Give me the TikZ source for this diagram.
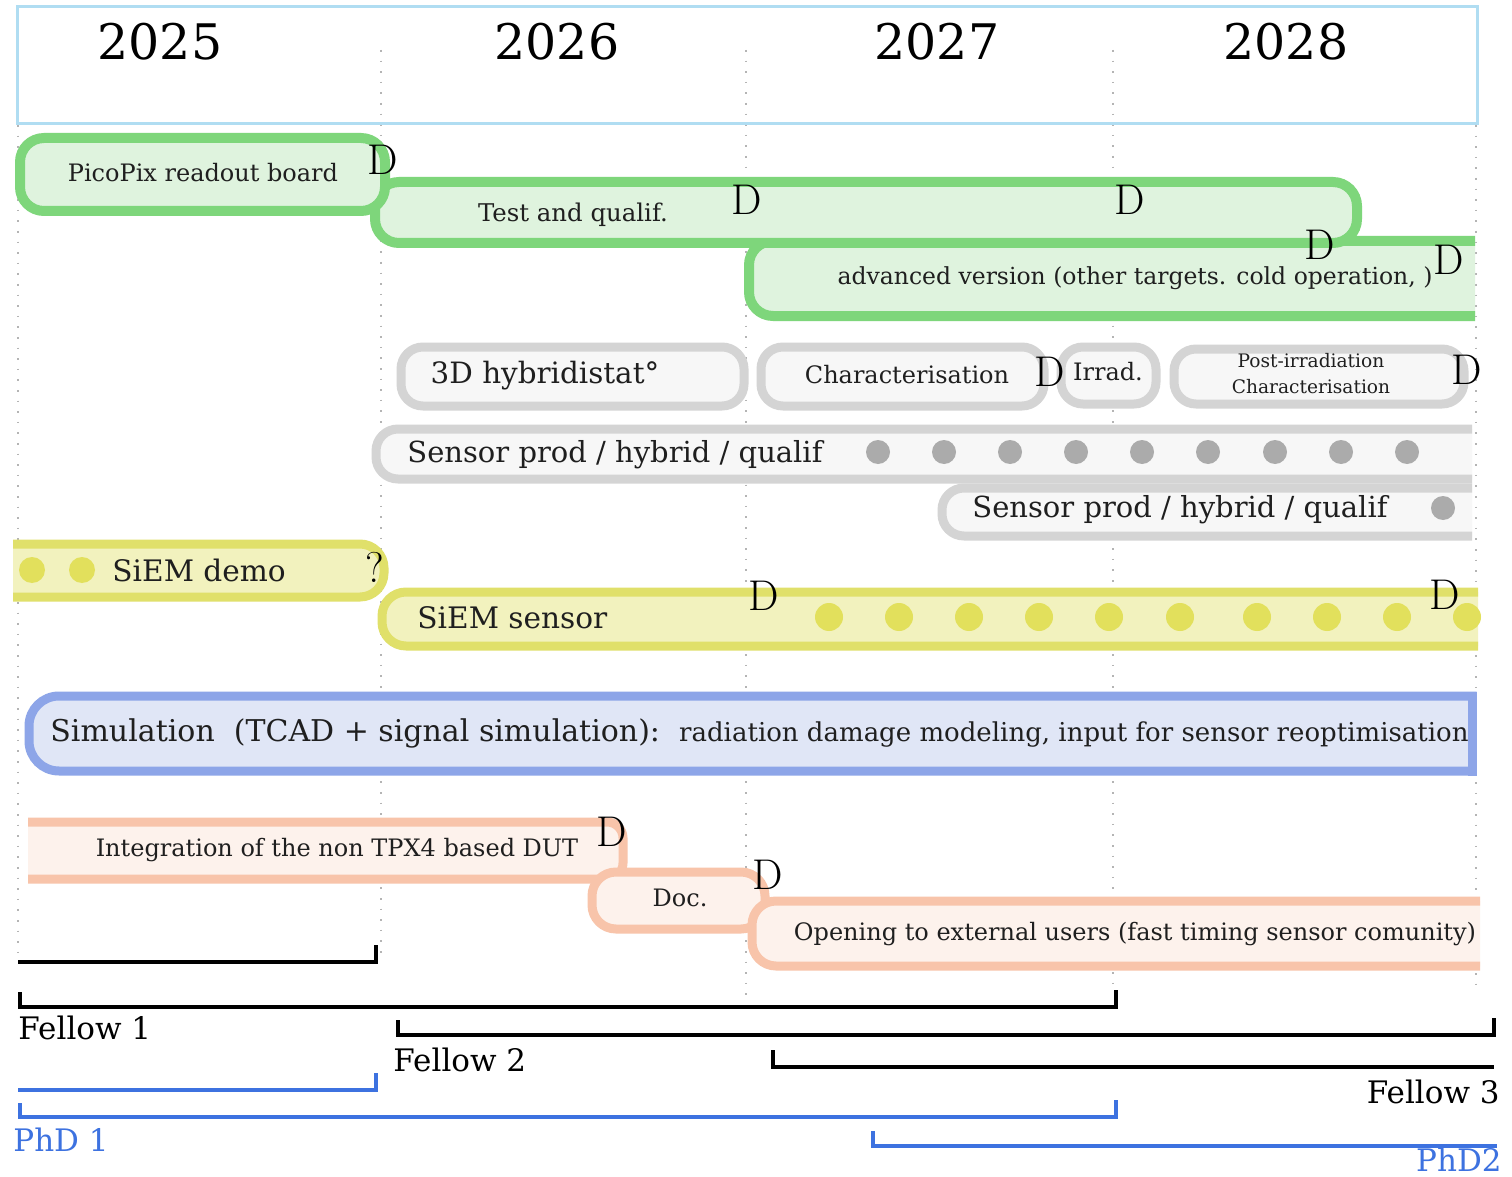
\documentclass[tikz,border=0pt]{standalone}
\usepackage{fontspec}
\newfontfamily\dvs{DejaVu Serif}
\newcommand\myfs[1]{\fontsize{#1}{#1}\selectfont}
\definecolor{gstroke}{HTML}{7ED67B}
\definecolor{gfill}{HTML}{DFF3DE}
\definecolor{grstroke}{HTML}{D4D4D4}
\definecolor{grfill}{HTML}{F7F7F7}
\definecolor{grdot}{HTML}{ABABAB}
\definecolor{ystroke}{HTML}{E0E06A}
\definecolor{yfill}{HTML}{F2F2BE}
\definecolor{ydot}{HTML}{E2E05C}
\definecolor{bstroke}{HTML}{8DA5E8}
\definecolor{bfill}{HTML}{E0E6F6}
\definecolor{ostroke}{HTML}{F8C4AA}
\definecolor{ofill}{HTML}{FDF2EC}
\definecolor{hdr}{HTML}{B0DDF2}
\definecolor{gridc}{HTML}{B4B4B4}
\definecolor{phdblue}{HTML}{3D72E0}
\begin{document}
\begin{tikzpicture}[x=0.5pt,y=-0.5pt,
  gridln/.style={draw=gridc, line width=0.7pt, dash pattern=on 0.8pt off 4.5pt},
  gbox/.style={draw=gstroke, fill=gfill, line width=5pt, rounded corners=12pt},
  grbox/.style={draw=grstroke, fill=grfill, line width=4.5pt, rounded corners=11pt},
  ybox/.style={draw=ystroke, fill=yfill, line width=4.5pt, rounded corners=12pt},
  bbox/.style={draw=bstroke, fill=bfill, line width=4.5pt, rounded corners=15pt},
  obox/.style={draw=ostroke, fill=ofill, line width=4.5pt, rounded corners=12pt},
  txt/.style={font=\dvs, inner sep=0pt, text=black!88},
  dmark/.style={font=\myfs{21.5}, inner sep=0pt},
  year/.style={font=\dvs\myfs{24.5}, inner sep=0pt},
  lbl/.style={font=\dvs\myfs{15.5}, inner sep=0pt},
  blk/.style={draw=black, line width=2pt},
  blu/.style={draw=phdblue, line width=1.8pt},
  grdotc/.style={fill=grdot},
  ydotc/.style={fill=ydot}]
\useasboundingbox (0,0) rectangle (1512,1177);
\fill[white] (0,0) rectangle (1512,1177);

% grid lines
\draw[gridln] (18,125) -- (18,955);
\draw[gridln] (381,50) -- (381,960);
\draw[gridln] (746,50) -- (746,1000);
\draw[gridln] (1113,50) -- (1113,990);
\draw[gridln] (1476,125) -- (1476,990);

% header
\draw[draw=hdr, line width=1.5pt] (17,7) rectangle (1477,124);
\node[year] (y25) at (160,42) {2025};
\node[year] (y26) at (557,42) {2026};
\node[year] (y27) at (937,42) {2027};
\node[year] (y28) at (1286,42) {2028};

% green rows
\fill[gfill, rounded corners=12pt] (1475,241) -- (749,241) -- (749,316) -- (1475,316);
\draw[draw=gstroke, line width=5pt, rounded corners=12pt] (1475,241) -- (749,241) -- (749,316) -- (1475,316);
\draw[gbox] (375,182) rectangle (1357,243);
\draw[gbox] (20,138) rectangle (385,211);

% gray rows
\fill[grfill, rounded corners=11pt] (1472,488) -- (942,488) -- (942,536) -- (1472,536);
\draw[draw=grstroke, line width=4.5pt, rounded corners=11pt] (1472,488) -- (942,488) -- (942,536) -- (1472,536);
\fill[grfill, rounded corners=11pt] (1472,429) -- (376,429) -- (376,479) -- (1472,479);
\draw[draw=grstroke, line width=4.5pt, rounded corners=11pt] (1472,429) -- (376,429) -- (376,479) -- (1472,479);
\draw[grbox] (401,347) rectangle (744,406);
\draw[grbox] (761,347) rectangle (1044,406);
\draw[grbox] (1061,347) rectangle (1156,404);
\draw[grbox] (1174,349) rectangle (1464,404);

% yellow rows
\fill[yfill, rounded corners=12pt] (1478,592) -- (382,592) -- (382,646) -- (1478,646);
\draw[draw=ystroke, line width=4.5pt, rounded corners=12pt] (1478,592) -- (382,592) -- (382,646) -- (1478,646);
\fill[yfill, rounded corners=12pt] (13,544) -- (384,544) -- (384,597) -- (13,597);
\draw[draw=ystroke, line width=4.5pt, rounded corners=12pt] (13,544) -- (384,544) -- (384,597) -- (13,597);

% simulation
\fill[bfill, rounded corners=15pt] (1472,696) -- (29,696) -- (29,771) -- (1472,771);
\draw[draw=bstroke, line width=4.5pt, rounded corners=15pt, line cap=rect] (1472,696) -- (29,696) -- (29,771) -- (1472,771);
\draw[draw=bstroke, line width=4.5pt, line cap=rect] (1472,696) -- (1472,771);

% orange rows
\fill[ofill, rounded corners=8pt] (28,822) -- (623,822) -- (623,879) -- (28,879);
\draw[draw=ostroke, line width=4.5pt, rounded corners=8pt] (28,822) -- (623,822) -- (623,879) -- (28,879);
\draw[obox] (592,872) rectangle (765,929);
\fill[ofill, rounded corners=12pt] (1480,901) -- (752,901) -- (752,966) -- (1480,966);
\draw[draw=ostroke, line width=4.5pt, rounded corners=12pt] (1480,901) -- (752,901) -- (752,966) -- (1480,966);

% dots
\foreach \x in {878,944,1010,1076,1142,1208,1275,1341,1407}
  \fill[grdotc] (\x,452) circle (6pt);
\fill[grdotc] (1443,508) circle (6pt);
\foreach \x in {32,82}
  \fill[ydotc] (\x,570) circle (6.5pt);
\foreach \x in {829,899,969,1039,1109,1180,1257,1327,1397,1467}
  \fill[ydotc] (\x,617) circle (7pt);

% texts
\node[txt, font=\dvs\myfs{12}] (pico) at (203,173) {PicoPix readout board};
\node[txt, font=\dvs\myfs{12.2}] (test) at (573,215) {Test and qualif.};
\node[txt, font=\dvs\myfs{11.75}] (adv) at (1135,278) {advanced version (other targets. cold operation, )};
\node[txt, font=\dvs\myfs{14.7}] (hyb) at (545,376) {3D hybridistat°};
\node[txt, font=\dvs\myfs{12}] (char) at (907,375) {Characterisation};
\node[txt, font=\dvs\myfs{12}] (irr) at (1108,372) {Irrad.};
\node[txt, font=\dvs\fontsize{9.3}{13}\selectfont, align=center] (post) at (1311,374) {Post-irradiation\\Characterisation};
\node[txt, font=\dvs\myfs{14.5}, anchor=west] (sp1) at (407,455) {Sensor prod / hybrid / qualif};
\node[txt, font=\dvs\myfs{14.5}, anchor=west] (sp2) at (972,510) {Sensor prod / hybrid / qualif};
\node[txt, font=\dvs\myfs{14.8}, anchor=west] (demo) at (112,570) {SiEM demo};
\node[txt, font=\dvs\myfs{14.8}, anchor=west] (sens) at (417,618) {SiEM sensor};
\node[txt, font=\dvs\myfs{15}, anchor=west] (sim) at (50,733) {Simulation\ \ (TCAD + signal simulation):\ \ {\myfs{13}radiation damage modeling, input for sensor reoptimisation}};
\node[txt, font=\dvs\myfs{12}] (integ) at (337,850) {Integration of the non TPX4 based DUT};
\node[txt, font=\dvs\myfs{12}] (doc) at (680,898) {Doc.};
\node[txt, font=\dvs\myfs{12}] (open) at (1135,934) {Opening to external users (fast timing sensor comunity)};

% D marks
\node[dmark] (d1) at (383,160) {D};
\node[dmark] (d2) at (747,200) {D};
\node[dmark] (d3) at (1130,200) {D};
\node[dmark] (d4) at (1320,245) {D};
\node[dmark] (d5) at (1449,260) {D};
\node[dmark] (d6) at (1050,372) {D};
\node[dmark] (d7) at (1467,370) {D};
\node[dmark] (q1) at (375,567) {?};
\node[dmark] (d8) at (764,596) {D};
\node[dmark] (d9) at (1445,595) {D};
\node[dmark] (d10) at (612,832) {D};
\node[dmark] (d11) at (768,875) {D};

% staffing brackets
\draw[blk] (18,962) -- (376,962) -- (376,945);
\draw[blk] (20,992) -- (20,1007) -- (1116,1007) -- (1116,990);
\draw[blk] (398,1020) -- (398,1035) -- (1494,1035) -- (1494,1018);
\draw[blk] (773,1050) -- (773,1067) -- (1494,1067);
\draw[blu] (18,1090) -- (376,1090) -- (376,1073);
\draw[blu] (20,1103) -- (20,1117) -- (1116,1117) -- (1116,1100);
\draw[blu] (873,1131) -- (873,1146) -- (1497,1146);
\node[lbl, anchor=west] (f1) at (18,1028) {Fellow 1};
\node[lbl, anchor=west] (f2) at (393,1060) {Fellow 2};
\node[lbl, anchor=east] (f3) at (1500,1092) {Fellow 3};
\node[lbl, anchor=west, text=phdblue] (p1) at (13,1140) {PhD 1};
\node[lbl, anchor=east, text=phdblue] (p2) at (1502,1160) {PhD2};
\end{tikzpicture}
\end{document}
